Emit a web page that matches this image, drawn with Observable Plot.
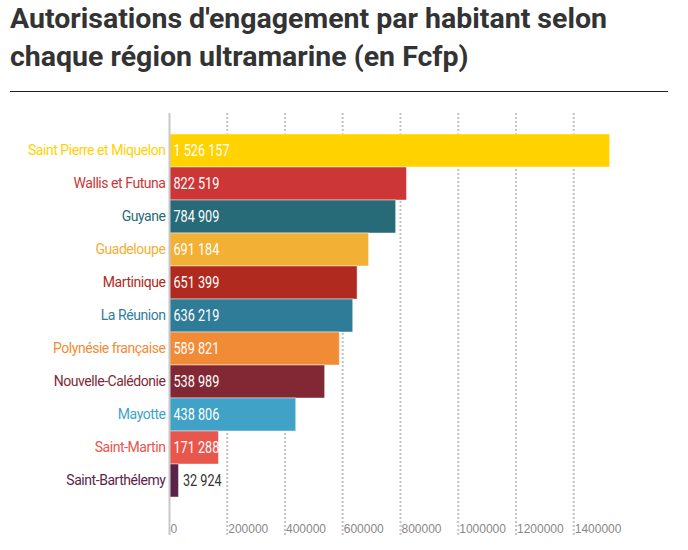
<!DOCTYPE html>
<html><head><meta charset="utf-8">
<script src="https://cdn.jsdelivr.net/npm/d3@7"></script>
<script src="https://cdn.jsdelivr.net/npm/@observablehq/plot@0.6"></script>
<style>
body{margin:0;background:#fff;width:688px;height:550px;position:relative;overflow:hidden}
#title{position:absolute;left:10px;top:0;margin:0;font-family:Roboto,sans-serif;font-weight:bold;font-size:27px;line-height:38px;color:#333;white-space:nowrap;transform-origin:0 0}
#rule{position:absolute;left:10px;top:91px;width:658px;height:0;border-top:1px solid #222}
#chart{position:absolute;left:0;top:100px}
.cond text{letter-spacing:-0.45px}
</style></head><body>
<h1 id="title"><span>Autorisations d'engagement par habitant selon</span><br>chaque région ultramarine (en Fcfp)</h1>
<div id="rule"></div>
<div id="chart"></div>
<script>
const regions = ["Saint Pierre et Miquelon","Wallis et Futuna","Guyane","Guadeloupe","Martinique","La Réunion","Polynésie française","Nouvelle-Calédonie","Mayotte","Saint-Martin","Saint-Barthélemy"];
const values = [1526157,822519,784909,691184,651399,636219,589821,538989,438806,171288,32924];
const colors = ["#FFD200","#CC3636","#286B78","#F2B035","#B02A20","#2F7C99","#F28B35","#822835","#40A2C6","#E8564C","#5C234A"];
const xTicks = [0,200000,400000,600000,800000,1000000,1200000,1400000];

const data = regions.map((r,i)=>({region:r, value:values[i], color:colors[i]}));
const fmt = v => d3.format(",")(v).replace(/,/g," ");
const font = 'Roboto,sans-serif';

const chart = Plot.plot({
  width: 688, height: 445,
  marginLeft: 169, marginRight: 57, marginTop: 13, marginBottom: 10,
  style: {fontFamily: font, background: "transparent"},
  x: {domain: [0,1600000], axis: null, label: null},
  y: {domain: regions, padding: 0, insetTop: 18, insetBottom: 35, axis: null},
  color: {type: "identity"},
  marks: [
    Plot.gridX(xTicks.filter(t=>t>0), {stroke:"#c4c4c4", strokeOpacity:1, strokeWidth:2, strokeDasharray:"2,2"}),
    Plot.barX(data, {x:"value", y:"region", fill:"color", stroke:"#fff", strokeOpacity:0.45, strokeWidth:1}),
    Plot.ruleX([0], {stroke:"#c8c8c8", strokeWidth:2}),
    Plot.text(data, {y:"region", text:"region", frameAnchor:"left", textAnchor:"end", dx:-4, fill:"color", fontSize:14, className:"cond"}),
    Plot.text(data.filter(d=>d.value>=100000), {x:0, y:"region", text:d=>fmt(d.value), textAnchor:"start", dx:4, fill:"#fff", fontSize:16, className:"cond2"}),
    Plot.text(data.filter(d=>d.value<100000), {x:"value", y:"region", text:d=>fmt(d.value), textAnchor:"start", dx:4, fill:"#333", fontSize:16, className:"cond2"}),
    Plot.axisX(xTicks, {anchor:"bottom", label:null, tickSize:0, tickFormat:d3.format("d"), textAnchor:"start", dx:1, dy:-20, fill:"#888", fontSize:12, fontFamily:"Liberation Sans, sans-serif"})
  ]
});
document.getElementById("chart").appendChild(chart);
// condense the start-anchored value labels to mimic the narrow typeface of the original
chart.querySelectorAll(".cond2 text").forEach(t=>{
  const L = t.getComputedTextLength();
  t.setAttribute("textLength", (L*0.79).toFixed(1));
  t.setAttribute("lengthAdjust", "spacingAndGlyphs");
});
const title = document.getElementById("title");
const w = title.querySelector("span").getBoundingClientRect().width;
title.style.transform = `scaleX(${597/w})`;
</script>
</body></html>
